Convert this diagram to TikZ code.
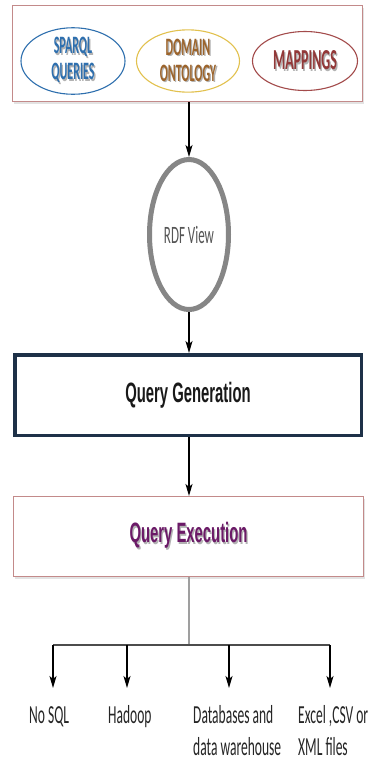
\documentclass[tikz,border=0pt]{standalone}
\usepackage{fontspec}
\setmainfont{Carlito}[FakeStretch=0.52]
\newfontfamily\ovalfont{Carlito}[FakeStretch=0.48]
\newfontfamily\boxfont{Liberation Sans}[FakeStretch=0.53]
\usetikzlibrary{arrows.meta,shapes.geometric,shadows}

\definecolor{frameRed}{HTML}{C38A8A}
\definecolor{sparqlBlue}{HTML}{2E6FAE}
\definecolor{domainGold}{HTML}{E2C14E}
\definecolor{domainBrown}{HTML}{9C642C}
\definecolor{mapRed}{HTML}{A34B4B}
\definecolor{mapText}{HTML}{923838}
\definecolor{rdfGray}{HTML}{868686}
\definecolor{rdfText}{HTML}{555555}
\definecolor{genNavy}{HTML}{1E3148}
\definecolor{execPurple}{HTML}{6B1A67}

% a word with a soft grey copy just behind it
\newcommand\withshade[1]{\leavevmode\rlap{\kern1.3pt\raisebox{-1.5pt}{\color{black!30}#1}}#1}
% fixed line height for the labels under the arrows
\newcommand\lineprop{\rule{0pt}{22pt}}

\begin{document}
\begin{tikzpicture}[x=1pt,y=-1pt,
  every node/.style={inner sep=0pt},
  softshadow/.style={drop shadow={shadow xshift=1.5pt,shadow yshift=-2pt,opacity=0.22,fill=gray}},
  oval/.style={ellipse,line width=1.1pt,minimum height=59pt,align=center,
    font=\ovalfont\bfseries\fontsize{25}{26}\selectfont},
  flow/.style={line width=1.4pt,-{Stealth[length=12pt,width=7pt,inset=3pt]}},
  stem/.style={line width=1.2pt,draw=gray!75},
  rail/.style={line width=1.2pt,draw=black!70},
  leaf/.style={anchor=north west,align=left,font=\fontsize{26}{32}\selectfont,text=black!85}
]
\useasboundingbox (0,0) rectangle (372,761);
\fill[white] (0,0) rectangle (372,761);

% input frame with the three sources
\node[draw=frameRed,line width=1.1pt,fill=white,minimum width=350pt,minimum height=96pt,softshadow]
  (inputs) at (187.5,53.5) {};

\node[oval,draw=sparqlBlue,text=sparqlBlue,minimum width=104pt]
  (sparql) at (73,61) {\withshade{SPARQL}\\\withshade{QUERIES}};
\node[oval,draw=domainGold,text=domainBrown,minimum width=103pt]
  (domain) at (188,61) {\withshade{DOMAIN}\\\withshade{ONTOLOGY}};
\node[oval,draw=mapRed,text=mapText,minimum width=105pt,font=\ovalfont\bfseries\fontsize{29}{30}\selectfont]
  (mappings) at (305,61) {\withshade{MAPPINGS}};

% RDF view
\node[ellipse,draw=rdfGray,line width=5pt,minimum width=79pt,minimum height=150pt,
  text=rdfText,font=\fontsize{25}{27}\selectfont] (rdf) at (189,234.5) {RDF View};

% query generation
\node[draw=genNavy,line width=3.5pt,minimum width=346.5pt,minimum height=80.5pt,
  font=\boxfont\bfseries\fontsize{28}{30}\selectfont,text=black!90] (qgen) at (188,395) {Query Generation};

% query execution
\node[draw=frameRed,line width=1.1pt,fill=white,minimum width=350pt,minimum height=80pt,softshadow,
  text=execPurple,font=\boxfont\bfseries\fontsize{28}{30}\selectfont]
  (qexec) at (188.5,536.5) {\withshade{Query Execution}};

% main flow
\draw[flow] (inputs.south -| rdf) -- (rdf.north);
\draw[flow] (rdf.south) -- (qgen.north -| rdf);
\draw[flow] (qgen.south -| rdf) -- (qexec.north -| rdf);

% fan-out to the data sources
\coordinate (split) at (189,645);
\coordinate (b1) at (53,645);
\coordinate (b2) at (127,645);
\coordinate (b3) at (229,645);
\coordinate (b4) at (330,645);
\coordinate (t1) at (53,688);
\coordinate (t2) at (127,688);
\coordinate (t3) at (229,688);
\coordinate (t4) at (330,688);
\draw[stem] (qexec.south -| split) -- (split);
\draw[rail] (b1) -- (b4);
\foreach \i in {1,...,4} \draw[flow] (b\i) -- (t\i);

\node[leaf] (nosql) at (29,701) {\lineprop No SQL};
\node[leaf] (hadoop) at (108,701) {\lineprop Hadoop};
\node[leaf] (dbs) at (193,701) {\lineprop Databases and\\\lineprop data warehouse};
\node[leaf] (files) at (298,701) {\lineprop Excel ,CSV or\\\lineprop XML files};
\end{tikzpicture}
\end{document}
